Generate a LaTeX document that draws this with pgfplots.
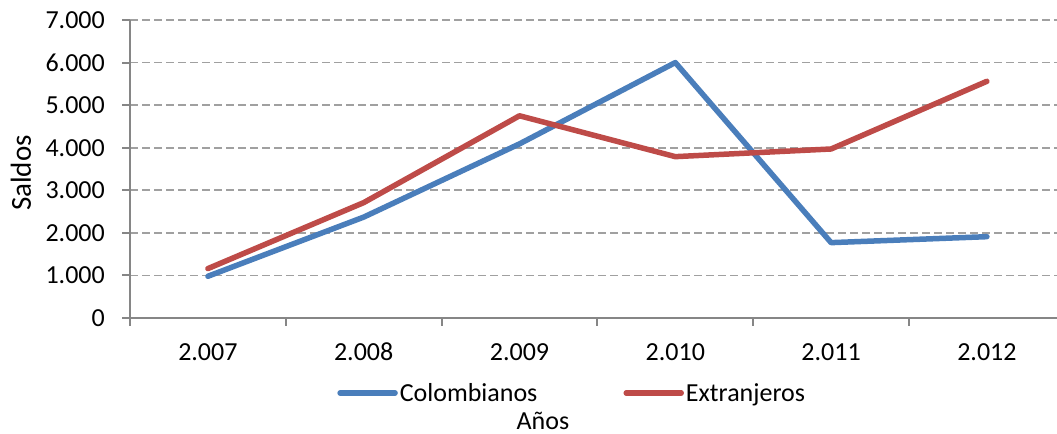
\documentclass[border=0pt]{standalone}
\usepackage{fontspec}
\setmainfont{Carlito}
\usepackage{pgfplots}
\pgfplotsset{compat=1.18}
\definecolor{cblue}{HTML}{4A7EBB}
\definecolor{cred}{HTML}{BE4B48}
\definecolor{gridc}{HTML}{A0A0A0}
\definecolor{axc}{HTML}{868686}
\begin{document}
\begin{tikzpicture}[x=1bp,y=1bp,font=\fontsize{26bp}{31bp}\selectfont]
\useasboundingbox (0,0) rectangle (1057,434);
\begin{axis}[
  at={(130bp,116bp)}, anchor=south west,
  scale only axis, width=927bp, height=298bp,
  xmin=-0.5, xmax=5.45, ymin=0, ymax=7000,
  axis lines*=left,
  axis line style={axc, line width=2bp},
  xtick={0,1,2,3,4,5},
  xticklabels={2.007,2.008,2.009,2.010,2.011,2.012},
  minor xtick={-0.5,0.5,1.5,2.5,3.5,4.5},
  major x tick style={draw=none},
  minor tick length=8bp, major tick length=8bp,
  tick align=outside,
  tick style={axc, line width=2bp},
  ytick={0,1000,...,7000},
  scaled y ticks=false,
  /pgf/number format/assume math mode=true,
  yticklabel style={/pgf/number format/1000 sep={.}, anchor=east, inner sep=0pt, xshift=-17bp},
  xticklabel style={anchor=north, inner sep=0pt, yshift=-17bp},
  ymajorgrids,
  grid style={gridc, line width=1.8bp, dash pattern=on 8bp off 4bp},
  ylabel={Saldos},
  ylabel style={at={(axis description cs:-0.1176,0.4866)}, anchor=center, rotate=0, font=\fontsize{29bp}{34bp}\selectfont},
  xlabel={Años},
  xlabel style={at={(axis description cs:0.4455,-0.3456)}, anchor=center},
  legend columns=2,
  legend style={draw=none, fill=none, at={(0.477,-0.2517)}, anchor=center,
    /tikz/every even column/.append style={column sep=84bp},
    nodes={inner sep=2bp}},
  legend image code/.code={\draw[#1] (0bp,0bp) -- (55bp,0bp);},
  every axis plot/.append style={line width=5.5bp, line cap=round, line join=round},
  clip=false,
]
\addplot[cblue] coordinates {(0,980) (1,2370) (2,4090) (3,6000) (4,1770) (5,1910)};
\addlegendentry{Colombianos}
\addplot[cred] coordinates {(0,1160) (1,2710) (2,4750) (3,3790) (4,3970) (5,5560)};
\addlegendentry{Extranjeros}
\end{axis}
\end{tikzpicture}
\end{document}
